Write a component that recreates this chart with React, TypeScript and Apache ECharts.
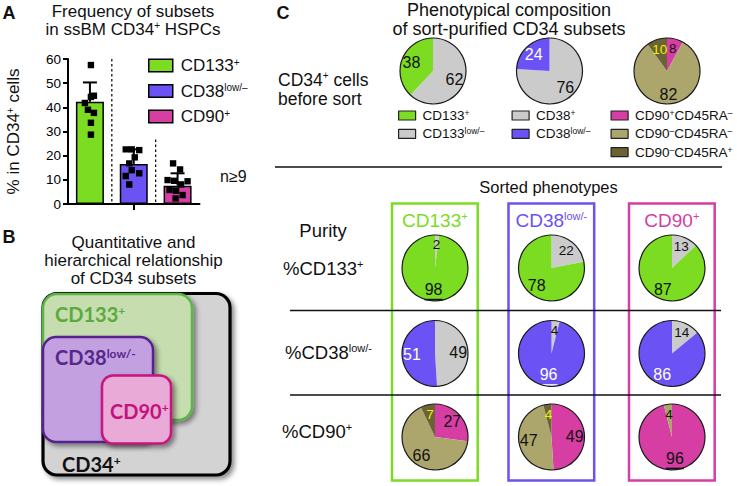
import React, { useEffect, useRef } from 'react';
import * as echarts from 'echarts';

// ---------------- Panel A data ----------------
const subsetKeys = ['CD133+', 'CD38low', 'CD90+'];
const subsetMeans = [42.3, 16.6, 7.6];
const subsetSD = [8.0, 6.0, 5.1];
const dotsCD133 = [57.5, 44.8, 44.3, 41.8, 39.0, 37.7, 33.6, 28.7];
const dotsCD38 = [22.6, 22.6, 22.3, 19.3, 16.8, 14.0, 12.7, 11.6, 8.1];
const dotsCD90 = [16.8, 14.3, 9.9, 9.6, 9.4, 8.1, 5.8, 5.5, 3.7, 2.3];
const yMin = 0;
const yMax = 60;
const yStep = 10;

// ---------------- Panel C data ----------------
// slices listed clockwise from 12 o'clock
const cd133Slices = ['CD133low', 'CD133+'];
const cd38Slices = ['CD38+', 'CD38low'];
const cd90Slices = ['CD90+CD45RA-', 'CD90-CD45RA-', 'CD90-CD45RA+'];
const beforeSortCD133 = [62, 38];
const beforeSortCD38 = [76, 24];
const beforeSortCD90 = [8, 82, 10];
const sortedColumns = ['CD133+', 'CD38low', 'CD90+'];
const purityCD133 = [[2, 98], [22, 78], [13, 87]];
const purityCD38 = [[49, 51], [4, 96], [14, 86]];
const purityCD90 = [[27, 66, 7], [49, 47, 4], [96, 4, 0]];
const positiveSliceIndex = [1, 1, 0]; // which slice is the sorted phenotype in each purity row

// ---------------- styles / layout ----------------
const FONT = '"Liberation Sans", Arial, Helvetica, sans-serif';
const BFONT = 'Lato, "Open Sans", "Liberation Sans", sans-serif';

const COLOR: Record<string, string> = {
  'CD133+': '#7bdc22',
  CD133low: '#cbcbcb',
  'CD38+': '#cbcbcb',
  CD38low: '#6a52f5',
  'CD90+': '#d63ea3',
  'CD90+CD45RA-': '#d63ea3',
  'CD90-CD45RA-': '#aca66c',
  'CD90-CD45RA+': '#6b6236',
};
const LABEL_COLOR: Record<string, string> = { CD38low: '#ffffff', 'CD90-CD45RA+': '#f4f000' };

const DISPLAY: Record<string, string> = {
  'CD133+': 'CD133{s|+}',
  CD133low: 'CD133{s|low/–}',
  'CD38+': 'CD38{s|+}',
  CD38low: 'CD38{s|low/–}',
  'CD90+': 'CD90{s|+}',
  'CD90+CD45RA-': 'CD90{s|+}CD45RA{s|–}',
  'CD90-CD45RA-': 'CD90{s|–}CD45RA{s|–}',
  'CD90-CD45RA+': 'CD90{s|–}CD45RA{s|+}',
};
const HEADER: Record<string, string> = {
  'CD133+': 'CD133{s|+}',
  CD38low: 'CD38{s|low/-}',
  'CD90+': 'CD90{s|+}',
};

const GRID_A = { left: 68, top: 59, width: 131.5, height: 145 };
const DOT_JITTER = [
  [1, 4, 1, -5, -2, 4, 1, 1],
  [-8, -2, 5.5, 1, -4.5, -2, 5.5, -8, -4.5],
  [-4.5, 2.5, -10, -3.5, 10, 3.5, -8, -1.5, 5, -2],
];
const PIE_R = 33;
const TOP_PIE_X = [433, 549.5, 667];
const TOP_PIE_Y = 71;
const COL_X = [435, 551.5, 672];
const ROW_Y = [268, 353.5, 437];
const BOX_X = [392, 508.5, 629];
const BOX_W = 85.7;

function sup(size: number) {
  return { s: { fontSize: size, lineHeight: size, verticalAlign: 'top' } };
}

function makePie(id: string, names: string[], values: number[], center: number[], underlineIdx: number) {
  const base = {
    type: 'pie',
    id: id + '-base',
    center,
    radius: [0, PIE_R],
    startAngle: 90,
    clockwise: true,
    silent: true,
    emphasis: { disabled: true },
    label: { show: false },
    labelLine: { show: false },
    itemStyle: { borderWidth: 0 },
    z: 2,
    data: names.map((n, i) => ({ name: n, value: values[i], itemStyle: { color: COLOR[n] } })),
  };
  const overlay = {
    type: 'pie',
    id: id + '-lbl',
    center,
    radius: [PIE_R * 0.22, PIE_R],
    startAngle: 90,
    clockwise: true,
    silent: true,
    avoidLabelOverlap: false,
    emphasis: { disabled: true },
    labelLine: { show: false },
    itemStyle: { color: 'rgba(0,0,0,0)', borderWidth: 0 },
    z: 3,
    label: {
      show: true,
      position: 'inside',
      fontFamily: FONT,
      formatter: (p: any) => {
        if (p.dataIndex === underlineIdx) {
          const w = LABEL_COLOR[names[p.dataIndex]] === '#ffffff';
          return `{${w ? 'uw' : 'ub'}|${p.value}}\n{${w ? 'lw' : 'lb'}| }`;
        }
        return String(p.value);
      },
      rich: {
        ub: { fontSize: 16, color: '#111', fontFamily: FONT, lineHeight: 17 },
        uw: { fontSize: 16, color: '#fff', fontFamily: FONT, lineHeight: 17 },
        lb: { width: 18, height: 1.6, lineHeight: 3, backgroundColor: '#111', fontSize: 1 },
        lw: { width: 18, height: 1.6, lineHeight: 3, backgroundColor: '#fff', fontSize: 1 },
      },
    },
    data: names.map((n, i) => ({
      name: n,
      value: values[i],
      label: {
        show: values[i] > 0,
        color: LABEL_COLOR[n] || '#111',
        fontSize: values[i] < 23 ? 13.5 : 16,
      },
    })),
  };
  return [base, overlay];
}

function txt(x: number, y: number, text: string, o: any = {}) {
  const align = o.align || 'left';
  return {
    type: 'text',
    x,
    y,
    z: 20,
    silent: true,
    rotation: o.rotation || 0,
    style: {
      text,
      fontFamily: o.fontFamily || FONT,
      fontSize: o.fontSize || 17,
      fontWeight: o.fontWeight || 'normal',
      fill: o.fill || '#111',
      lineHeight: o.lineHeight,
      align,
      textAlign: align,
      verticalAlign: 'middle',
      textVerticalAlign: 'middle',
      rich: o.rich || sup(Math.round((o.fontSize || 17) * 0.58)),
    },
  };
}

function line(x1: number, y1: number, x2: number, y2: number, o: any = {}) {
  return {
    type: 'line',
    z: 15,
    silent: true,
    shape: { x1, y1, x2, y2 },
    style: { stroke: o.stroke || '#111', lineWidth: o.lineWidth || 1.5, lineDash: o.lineDash },
  };
}

function rrect(x: number, y: number, w: number, h: number, fill: string, stroke: string, lw: number, r: number) {
  return {
    type: 'rect',
    z: 5,
    silent: true,
    shape: { x, y, width: w, height: h, r },
    style: {
      fill,
      stroke,
      lineWidth: lw,
      shadowBlur: 5,
      shadowOffsetX: 3,
      shadowOffsetY: 3,
      shadowColor: 'rgba(0,0,0,0.45)',
    },
  };
}

function buildOption() {
  const catW = GRID_A.width / 3;
  const yPx = (v: number) => GRID_A.top + GRID_A.height * (1 - (v - yMin) / (yMax - yMin));

  const barSeries = subsetKeys.map((k, i) => ({
    type: 'bar',
    name: 'A-' + k,
    data: subsetKeys.map((_, j) => (j === i ? subsetMeans[i] : '-')),
    barWidth: 28,
    barGap: '-100%',
    silent: true,
    z: 2,
    itemStyle: { color: COLOR[k], borderColor: '#000', borderWidth: 1.5 },
  }));

  const errSeries = {
    type: 'custom',
    silent: true,
    z: 4,
    encode: { x: 0, y: 1 },
    data: subsetMeans.map((m, i) => [i, m, subsetSD[i]]),
    renderItem: (_p: any, api: any) => {
      const c = api.value(0);
      const m = api.value(1);
      const sd = api.value(2);
      const a = api.coord([c, m]);
      const b = api.coord([c, m + sd]);
      return {
        type: 'group',
        children: [
          { type: 'line', shape: { x1: a[0], y1: a[1], x2: b[0], y2: b[1] }, style: { stroke: '#000', lineWidth: 2 } },
          { type: 'line', shape: { x1: b[0] - 7, y1: b[1], x2: b[0] + 7, y2: b[1] }, style: { stroke: '#000', lineWidth: 2 } },
        ],
      };
    },
  };

  const allDots = [dotsCD133, dotsCD38, dotsCD90];
  const dotData: number[][] = [];
  const jitter: number[] = [];
  allDots.forEach((arr, i) =>
    arr.forEach((v, j) => {
      dotData.push([i, v]);
      jitter.push(DOT_JITTER[i][j] || 0);
    })
  );
  const dotSeries = {
    type: 'custom',
    silent: true,
    z: 5,
    encode: { x: 0, y: 1 },
    data: dotData,
    renderItem: (p: any, api: any) => {
      const pt = api.coord([api.value(0), api.value(1)]);
      const s = 6.4;
      return {
        type: 'rect',
        shape: { x: pt[0] + jitter[p.dataIndex] - s / 2, y: pt[1] - s / 2, width: s, height: s },
        style: { fill: '#000' },
      };
    },
  };

  const pieSeries: any[] = [];
  pieSeries.push(...makePie('top1', cd133Slices, beforeSortCD133, [TOP_PIE_X[0], TOP_PIE_Y], -1));
  pieSeries.push(...makePie('top2', cd38Slices, beforeSortCD38, [TOP_PIE_X[1], TOP_PIE_Y], -1));
  pieSeries.push(...makePie('top3', cd90Slices, beforeSortCD90, [TOP_PIE_X[2], TOP_PIE_Y], -1));
  const rows = [
    { names: cd133Slices, vals: purityCD133 },
    { names: cd38Slices, vals: purityCD38 },
    { names: cd90Slices, vals: purityCD90 },
  ];
  rows.forEach((row, r) =>
    row.vals.forEach((vals, c) => {
      pieSeries.push(
        ...makePie(`r${r}c${c}`, row.names, vals, [COL_X[c], ROW_Y[r]], r === c ? positiveSliceIndex[r] : -1)
      );
    })
  );

  const pieLegend = (names: string[], left: number) => ({
    orient: 'vertical',
    left,
    top: 108.5,
    padding: 0,
    itemWidth: 17,
    itemHeight: 9,
    itemGap: 4.3,
    icon: 'rect',
    selectedMode: false,
    data: names,
    formatter: (n: string) => DISPLAY[n],
    itemStyle: { borderColor: '#222', borderWidth: 1.2 },
    textStyle: {
      fontFamily: FONT,
      fontSize: 13.5,
      color: '#111',
      lineHeight: 14,
      padding: [0, 0, 0, 2],
      rich: sup(8.5),
    },
  });

  // ----- graphics -----
  const g: any[] = [];
  // Panel A
  g.push(txt(9, 13, 'A', { fontWeight: 'bold', fontSize: 18, align: 'center' }));
  g.push(
    txt(133, 20.5, 'Frequency of subsets\nin ssBM CD34{s|+} HSPCs', {
      fontSize: 17,
      lineHeight: 18.5,
      align: 'center',
    })
  );
  g.push(txt(220, 176, 'n≥9', { fontSize: 16 }));
  g.push(line(GRID_A.left + catW, yPx(60), GRID_A.left + catW, yPx(0), { lineWidth: 1.2, lineDash: [2.5, 2.5], stroke: '#000' }));
  g.push(
    line(GRID_A.left + 2 * catW, yPx(26.7), GRID_A.left + 2 * catW, yPx(0), { lineWidth: 1.2, lineDash: [2.5, 2.5], stroke: '#000' })
  );

  // Panel B
  g.push(txt(9, 237, 'B', { fontWeight: 'bold', fontSize: 18, align: 'center' }));
  g.push(
    txt(133.5, 260.5, 'Quantitative and\nhierarchical relationship\nof CD34 subsets', {
      fontSize: 17,
      lineHeight: 18,
      align: 'center',
    })
  );
  g.push(rrect(43, 293.5, 187, 181.5, '#d3d3d3', '#000', 3.2, 14));
  g.push(rrect(43, 294, 149, 126, '#c6ddaf', '#5cb548', 2.5, 14));
  g.push(rrect(43, 337, 110, 105, '#c3a0e0', '#57248d', 2.5, 13));
  g.push(rrect(102, 375.5, 69, 68, '#eaaad8', '#c7137d', 2.5, 11));
  const bRich = (size: number) => ({ s: { fontSize: size, lineHeight: size, verticalAlign: 'top', fontWeight: 'bold', fontFamily: BFONT } });
  g.push(txt(55, 314, 'CD133{s|+}', { fontFamily: BFONT, fontWeight: 'bold', fontSize: 20, fill: '#5aaa3c', rich: bRich(12) }));
  g.push(txt(55, 357, 'CD38{s|low/-}', { fontFamily: BFONT, fontWeight: 'bold', fontSize: 20, fill: '#56278c', rich: bRich(12) }));
  g.push(txt(110, 411, 'CD90{s|+}', { fontFamily: BFONT, fontWeight: 'bold', fontSize: 20, fill: '#c2137b', rich: bRich(12) }));
  g.push(txt(62, 464, 'CD34{s|+}', { fontFamily: BFONT, fontWeight: 'bold', fontSize: 20, fill: '#111', rich: bRich(12) }));

  // Panel C
  g.push(txt(283, 12.5, 'C', { fontWeight: 'bold', fontSize: 18, align: 'center' }));
  g.push(
    txt(509, 19.5, 'Phenotypical composition\nof sort-purified CD34 subsets', {
      fontSize: 18,
      lineHeight: 19.5,
      align: 'center',
    })
  );
  g.push(txt(278, 89.7, 'CD34{s|+} cells\nbefore sort', { fontSize: 17.5, lineHeight: 19 }));
  g.push(line(275, 167, 722, 167, { lineWidth: 1.5 }));
  g.push(txt(548.5, 187, 'Sorted phenotypes', { fontSize: 16.5, align: 'center' }));
  g.push(txt(323, 230, 'Purity', { fontSize: 18.5, align: 'center' }));
  g.push(txt(283, 268, '%CD133{s|+}', { fontSize: 18.5 }));
  g.push(txt(285, 352, '%CD38{s|low/-}', { fontSize: 18.5 }));
  g.push(txt(282, 431, '%CD90{s|+}', { fontSize: 18.5 }));
  sortedColumns.forEach((k, i) => {
    g.push({
      type: 'rect',
      z: 6,
      silent: true,
      shape: { x: BOX_X[i], y: 203.5, width: BOX_W, height: 277 },
      style: { fill: 'none', stroke: COLOR[k], lineWidth: 2.5 },
    });
    g.push(txt(BOX_X[i] + BOX_W / 2, 220, HEADER[k], { fontSize: 19, fill: COLOR[k], align: 'center' }));
  });
  g.push(line(290, 310.5, 721, 310.5, { lineWidth: 1.5 }));
  g.push(line(290, 395, 721, 395, { lineWidth: 1.5 }));
  // pie outlines
  TOP_PIE_X.forEach((x) =>
    g.push({ type: 'circle', z: 12, silent: true, shape: { cx: x, cy: TOP_PIE_Y, r: PIE_R }, style: { fill: 'none', stroke: '#1a1a1a', lineWidth: 1.2 } })
  );
  ROW_Y.forEach((y) =>
    COL_X.forEach((x) =>
      g.push({ type: 'circle', z: 12, silent: true, shape: { cx: x, cy: y, r: PIE_R }, style: { fill: 'none', stroke: '#1a1a1a', lineWidth: 1.2 } })
    )
  );

  return {
    animation: false,
    backgroundColor: '#ffffff',
    textStyle: { fontFamily: FONT },
    grid: { ...GRID_A, outerBoundsMode: 'none', containLabel: false },
    xAxis: {
      type: 'category',
      data: subsetKeys,
      axisLine: { show: true, lineStyle: { color: '#000', width: 2 } },
      axisTick: { show: true, alignWithLabel: true, interval: (i: number) => i === 1, length: 6, lineStyle: { color: '#000', width: 2 } },
      axisLabel: { show: false },
      splitLine: { show: false },
    },
    yAxis: {
      type: 'value',
      min: yMin,
      max: yMax,
      interval: yStep,
      axisLine: { show: true, lineStyle: { color: '#000', width: 2 } },
      axisTick: { show: true, length: 5, lineStyle: { color: '#000', width: 2 } },
      axisLabel: { color: '#000', fontSize: 13.5, margin: 7, fontFamily: FONT },
      splitLine: { show: false },
      name: '% in CD34{s|+} cells',
      nameLocation: 'middle',
      nameGap: 46,
      nameTextStyle: { fontSize: 17, color: '#111', fontFamily: FONT, rich: sup(10) },
    },
    legend: [
      {
        orient: 'vertical',
        left: 148,
        top: 57,
        padding: 0,
        itemWidth: 24,
        itemHeight: 12.5,
        itemGap: 8.5,
        icon: 'rect',
        selectedMode: false,
        data: subsetKeys.map((k) => 'A-' + k),
        formatter: (n: string) => DISPLAY[n.slice(2)],
        itemStyle: { borderColor: '#000', borderWidth: 1.5 },
        textStyle: { fontFamily: FONT, fontSize: 17, color: '#111', lineHeight: 17, padding: [0, 0, 0, 3], rich: sup(10) },
      },
      pieLegend(cd133Slices.slice().reverse(), 398),
      pieLegend(cd38Slices, 511.5),
      pieLegend(cd90Slices, 610.5),
    ],
    series: [...barSeries, errSeries, dotSeries, ...pieSeries],
    graphic: { elements: g },
  };
}

export default function App() {
  const ref = useRef<HTMLDivElement>(null);
  useEffect(() => {
    const chart = echarts.init(ref.current!, null, { renderer: 'svg', width: 737, height: 486 });
    chart.setOption(buildOption() as any);
    return () => chart.dispose();
  }, []);
  return (
    <div
      ref={ref}
      style={{ position: 'absolute', left: 0, top: 0, width: 737, height: 486, background: '#fff' }}
    />
  );
}
